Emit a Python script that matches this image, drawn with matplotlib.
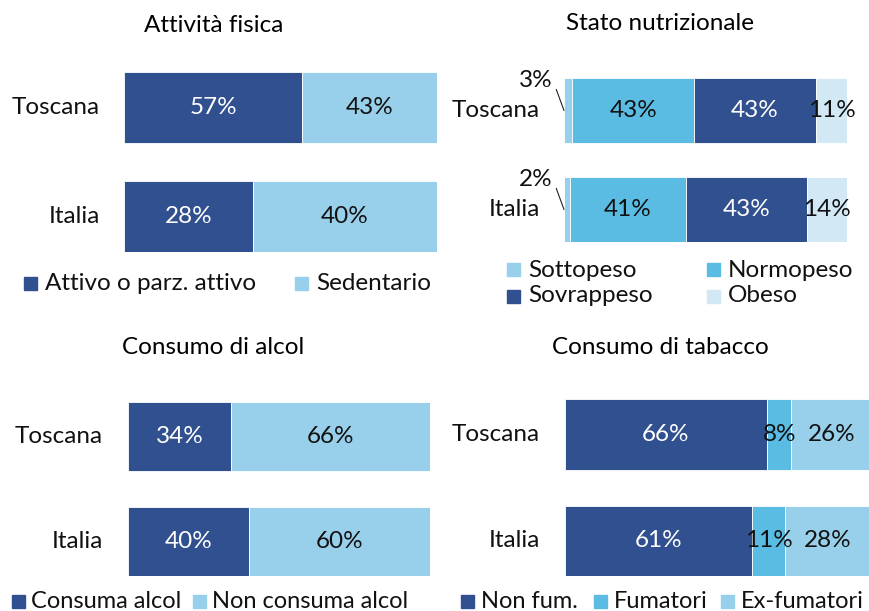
import matplotlib
matplotlib.use("Agg")
import matplotlib.pyplot as plt
from matplotlib.patches import Rectangle

plt.rcParams['font.family'] = ['Lato', 'DejaVu Sans']

W, H = 870, 611

regions = ["Toscana", "Italia"]

# Panel 1: Attività fisica
att_series = ["Attivo o parz. attivo", "Sedentario"]
att_values = [[57, 28], [43, 40]]

# Panel 2: Stato nutrizionale
nut_series = ["Sottopeso", "Normopeso", "Sovrappeso", "Obeso"]
nut_values = [[3, 2], [43, 41], [43, 43], [11, 14]]

# Panel 3: Consumo di alcol
alc_series = ["Consuma alcol", "Non consuma alcol"]
alc_values = [[34, 40], [66, 60]]

# Panel 4: Consumo di tabacco
tab_series = ["Non fum.", "Fumatori", "Ex-fumatori"]
tab_values = [[66, 61], [8, 11], [26, 28]]

DARK = "#31508F"
LIGHT = "#98D0EB"
MID = "#5BBCE3"
PALE = "#D2E9F5"

fig = plt.figure(figsize=(W / 100, H / 100), dpi=100)


def add_ax(x0, y0, x1, y1):
    return fig.add_axes([x0 / W, 1 - y1 / H, (x1 - x0) / W, (y1 - y0) / H])


def fx(x):
    return x / W


def fy(y):
    return 1 - y / H


FS = 17.5


def stacked(ax, values, colors, txtcolors, h, skip_first=False):
    n = len(regions)
    totals = [sum(v[i] for v in values) for i in range(n)]
    left = [0.0] * n
    for s, (vals, col, tc) in enumerate(zip(values, colors, txtcolors)):
        shares = [vals[i] / totals[i] for i in range(n)]
        ax.barh(range(n), shares, left=left, height=h, color=col,
                edgecolor='white', linewidth=0.6)
        for i in range(n):
            if not (skip_first and s == 0):
                ax.text(left[i] + shares[i] / 2, i, f"{vals[i]}%", ha='center',
                        va='center', color=tc, fontsize=FS, clip_on=False)
        left = [left[i] + shares[i] for i in range(n)]
    ax.set_xlim(0, 1)
    ax.set_ylim(n - 1 + h / 2, -h / 2)
    ax.axis('off')


def ylabels(ax, xr):
    for i, r in enumerate(regions):
        ax.annotate(r, xy=(0, i), xycoords=('axes fraction', 'data'),
                    xytext=(-xr, 0), textcoords='offset pixels',
                    ha='right', va='center', fontsize=FS, color='#111111')


def legend(items, fs=FS, gap=8):
    # items: list of (x_square, y_center, color, label)
    for xs, yc, col, lab in items:
        sz = 13
        fig.patches.append(Rectangle((fx(xs), fy(yc + sz / 2)), sz / W, sz / H,
                                     transform=fig.transFigure, color=col))
        fig.text(fx(xs + sz + gap), fy(yc), lab, ha='left', va='center',
                 fontsize=fs, color='#111111')


# ---- Panel 1
ax1 = add_ax(124, 72, 437, 252)
stacked(ax1, att_values, [DARK, LIGHT], ['white', '#111111'], 71 / 109)
ylabels(ax1, 24)
fig.text(fx(214), fy(25), "Attività fisica", ha='center', va='center', fontsize=FS)
legend([(24, 283, DARK, att_series[0]), (295, 283, LIGHT, att_series[1])])

# ---- Panel 2
ax2 = add_ax(564, 78, 847, 242)
stacked(ax2, nut_values, [LIGHT, MID, DARK, PALE],
        ['#111111', '#111111', 'white', '#111111'], 65 / 99, skip_first=True)
for i in range(len(regions)):
    ax2.annotate(f"{nut_values[0][i]}%", xy=(0, i), xytext=(-11, 30),
                 textcoords='offset pixels', ha='right', va='center',
                 fontsize=FS, color='#111111',
                 arrowprops=dict(arrowstyle='-', lw=0.8, color='#222222',
                                 shrinkA=1, shrinkB=0, relpos=(1, 0.5)))
ylabels(ax2, 24)
fig.text(fx(660), fy(24), "Stato nutrizionale", ha='center', va='center', fontsize=FS)
legend([(507, 270, LIGHT, nut_series[0]), (707, 270, MID, nut_series[1]),
        (507, 296, DARK, nut_series[2]), (707, 296, PALE, nut_series[3])])

# ---- Panel 3
ax3 = add_ax(128, 402, 430, 576)
stacked(ax3, alc_values, [DARK, LIGHT], ['white', '#111111'], 69 / 105)
ylabels(ax3, 25)
fig.text(fx(213), fy(347), "Consumo di alcol", ha='center', va='center', fontsize=FS)
legend([(12, 601, DARK, alc_series[0]), (193, 601, LIGHT, alc_series[1])],
       fs=17, gap=6)

# ---- Panel 4
ax4 = add_ax(565, 399, 871, 576)
stacked(ax4, tab_values, [DARK, MID, LIGHT], ['white', '#111111', '#111111'], 70.5 / 106.5)
ylabels(ax4, 25)
fig.text(fx(660), fy(347), "Consumo di tabacco", ha='center', va='center', fontsize=FS)
legend([(461, 601, DARK, tab_series[0]), (594, 601, MID, tab_series[1]),
        (721, 601, LIGHT, tab_series[2])], fs=17, gap=7)

fig.savefig("out.png", dpi=100, facecolor='white')
